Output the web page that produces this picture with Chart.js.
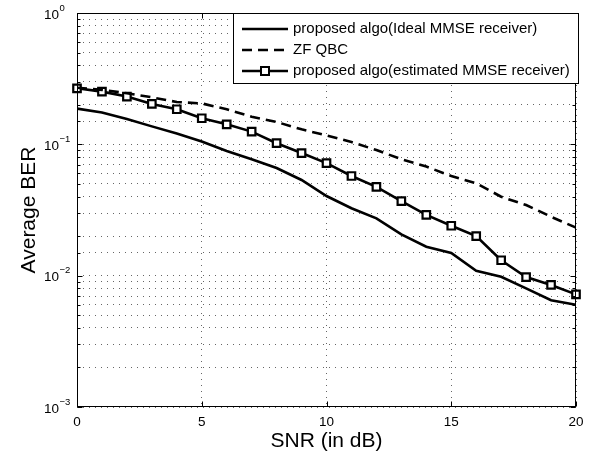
<!DOCTYPE html>
<html>
<head>
<meta charset="utf-8">
<script src="https://cdn.jsdelivr.net/npm/chart.js@4/dist/chart.umd.min.js"></script>
<style>
  html, body { margin: 0; padding: 0; background: #fff; }
  #wrap { width: 595px; height: 456px; position: relative; }
</style>
</head>
<body>
<div id="wrap"><canvas id="c" width="595" height="456"></canvas></div>
<script>
// ---- data ----
const snr = [0,1,2,3,4,5,6,7,8,9,10,11,12,13,14,15,16,17,18,19,20];
const idealMMSE = [0.187,0.175,0.156,0.137,0.121,0.105,0.089,0.077,0.066,0.0535,0.0404,0.0326,0.0273,0.0206,0.0166,0.0149,0.0109,0.0098,0.0080,0.0065,0.0060];
const zfQBC     = [0.27,0.26,0.245,0.228,0.21,0.205,0.185,0.162,0.148,0.130,0.117,0.104,0.0905,0.077,0.0677,0.0574,0.0505,0.0399,0.0345,0.0281,0.0232];
const estMMSE   = [0.267,0.252,0.231,0.203,0.185,0.158,0.142,0.125,0.102,0.0858,0.072,0.0574,0.0475,0.037,0.029,0.024,0.020,0.0131,0.00975,0.0085,0.0072];
const seriesLabels = ['proposed algo(Ideal MMSE receiver)', 'ZF QBC', 'proposed algo(estimated MMSE receiver)'];
const xTicks = [0,5,10,15,20];
const yDecades = [1, 0.1, 0.01, 0.001];
const yExponents = ['0', '\u22121', '\u22122', '\u22123'];
const xTitle = 'SNR (in dB)';
const yTitle = 'Average BER';

const FONT = "'Liberation Sans', Arial, Helvetica, sans-serif";
const pts = arr => arr.map((v, i) => ({x: snr[i], y: v}));

const framePlugin = {
  id: 'frame',
  afterDatasetsDraw(chart) {
    const {ctx, chartArea: a, scales} = chart;
    ctx.save();
    ctx.strokeStyle = '#000';
    ctx.lineWidth = 1;
    const L = Math.round(a.left) + 0.5, R = Math.round(a.right) - 0.5;
    const T = Math.round(a.top) + 0.5, B = Math.round(a.bottom) - 0.5;
    ctx.strokeRect(L, T, R - L, B - T);
    ctx.beginPath();
    xTicks.forEach(v => {
      const x = Math.round(scales.x.getPixelForValue(v)) + 0.5;
      ctx.moveTo(x, B); ctx.lineTo(x, B - 5);
      ctx.moveTo(x, T); ctx.lineTo(x, T + 5);
    });
    scales.y.ticks.forEach(t => {
      const y = Math.round(scales.y.getPixelForValue(t.value)) + 0.5;
      const m = Math.log10(t.value);
      const len = Math.abs(m - Math.round(m)) < 1e-6 ? 5 : 3;
      ctx.moveTo(L, y); ctx.lineTo(L + len, y);
      ctx.moveTo(R, y); ctx.lineTo(R - len, y);
    });
    ctx.stroke();
    ctx.restore();
  },
  afterDraw(chart) {
    const {ctx, scales} = chart;
    ctx.save();
    ctx.fillStyle = '#000';
    yDecades.forEach((v, i) => {
      const y = scales.y.getPixelForValue(v);
      ctx.font = '13.5px ' + FONT;
      ctx.textAlign = 'right';
      ctx.textBaseline = 'middle';
      ctx.fillText('10', 59, y + 2);
      ctx.font = '9.5px ' + FONT;
      ctx.textAlign = 'left';
      ctx.fillText(yExponents[i], 59.5, y - 5);
    });
    const bx = 233.5, by = 13.5, bw = 345, bh = 70;
    ctx.fillStyle = '#fff';
    ctx.fillRect(bx, by, bw, bh);
    ctx.strokeStyle = '#000';
    ctx.lineWidth = 1;
    ctx.strokeRect(bx, by, bw, bh);
    const rows = [29, 50, 71];
    chart.data.datasets.forEach((ds, i) => {
      const y = rows[i];
      ctx.save();
      ctx.strokeStyle = '#000';
      ctx.lineWidth = ds.borderWidth;
      ctx.setLineDash(ds.borderDash || []);
      ctx.beginPath();
      ctx.moveTo(242, y); ctx.lineTo(288, y);
      ctx.stroke();
      ctx.restore();
      if (ds.pointRadius > 0) {
        ctx.save();
        ctx.lineWidth = 2;
        ctx.strokeStyle = '#000';
        ctx.fillStyle = '#fff';
        ctx.fillRect(261, y - 4, 8, 8);
        ctx.strokeRect(261, y - 4, 8, 8);
        ctx.restore();
      }
      ctx.fillStyle = '#000';
      ctx.font = '15px ' + FONT;
      ctx.textAlign = 'left';
      ctx.textBaseline = 'middle';
      ctx.fillText(ds.label, 293, y);
    });
    ctx.restore();
  }
};

new Chart(document.getElementById('c'), {
  type: 'line',
  data: {
    datasets: [
      { label: seriesLabels[0], data: pts(idealMMSE), borderColor: '#000', borderWidth: 2.6,
        pointRadius: 0, tension: 0, fill: false },
      { label: seriesLabels[1], data: pts(zfQBC), borderColor: '#000', borderWidth: 2.6,
        borderDash: [10, 6], pointRadius: 0, tension: 0, fill: false },
      { label: seriesLabels[2], data: pts(estMMSE), borderColor: '#000', borderWidth: 2.6,
        pointStyle: 'rect', pointRadius: 5.3, pointBorderWidth: 2.2, pointBorderColor: '#000',
        pointBackgroundColor: '#fff', tension: 0, fill: false, clip: false }
    ]
  },
  options: {
    responsive: false,
    animation: false,
    events: [],
    layout: { padding: { top: 13, right: 19, left: 0, bottom: 0 } },
    plugins: { legend: { display: false }, tooltip: { enabled: false }, title: { display: false } },
    scales: {
      x: {
        type: 'linear', min: 0, max: 20,
        afterFit(s) { s.height = 49; },
        afterBuildTicks(s) { s.ticks = xTicks.map(v => ({value: v})); },
        ticks: { color: '#000', font: { family: FONT, size: 13.5 }, padding: 7, maxRotation: 0, autoSkip: false },
        grid: { color: 'rgba(0,0,0,0.6)', lineWidth: 1, drawTicks: false },
        border: { display: false, dash: [1, 5] },
        title: { display: true, text: xTitle, color: '#000', font: { family: FONT, size: 21 }, padding: { top: 0, bottom: 2 } }
      },
      y: {
        type: 'logarithmic', min: 0.001, max: 1,
        afterFit(s) { s.width = 77; },
        ticks: { display: false, autoSkip: false },
        grid: { color: 'rgba(0,0,0,0.6)', lineWidth: 1, drawTicks: false },
        border: { display: false, dash: [1, 5] },
        title: { display: true, text: yTitle, color: '#000', font: { family: FONT, size: 21 }, padding: { top: 17, bottom: 0 } }
      }
    }
  },
  plugins: [framePlugin]
});
</script>
</body>
</html>
